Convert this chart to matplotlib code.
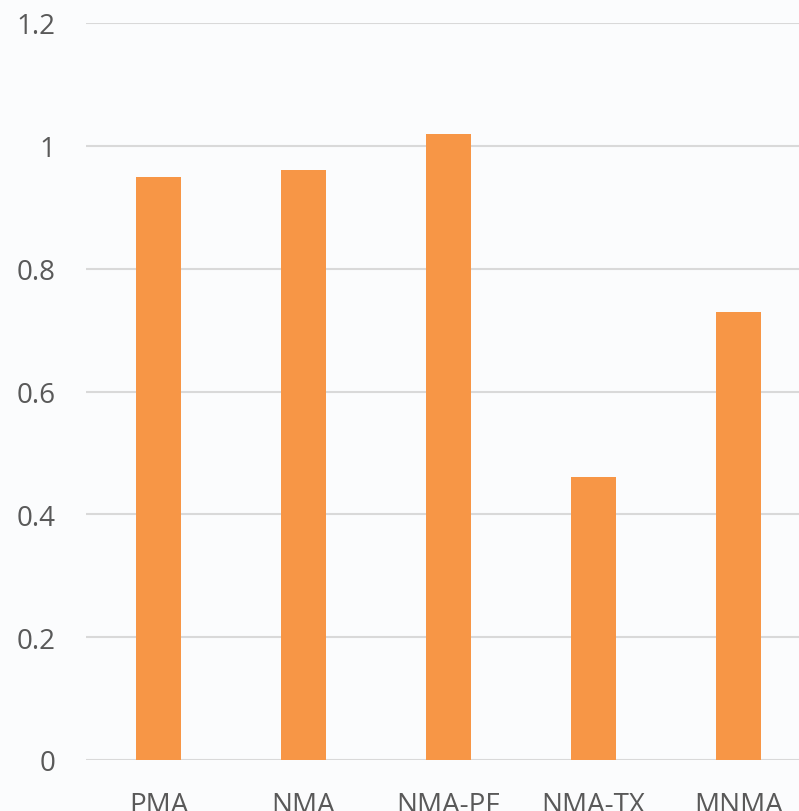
import matplotlib
matplotlib.use("Agg")
import matplotlib.pyplot as plt

# data
categories = ["PMA", "NMA", "NMA-PF", "NMA-TX", "MNMA"]
values = [0.95, 0.96, 1.02, 0.46, 0.73]
yticks = [0, 0.2, 0.4, 0.6, 0.8, 1.0, 1.2]
ytick_labels = ["0", "0.2", "0.4", "0.6", "0.8", "1", "1.2"]

plt.rcParams["font.family"] = ["Open Sans", "DejaVu Sans"]

W, H = 799, 812
fig = plt.figure(figsize=(W / 100, H / 100), dpi=100)
fig.patch.set_facecolor("#FBFCFD")

# axes placed in pixels: left edge 86, zero line 761, top line 24; right edge runs off the figure
left, right, y0, y1 = 86, 799, 761, 24
ax = fig.add_axes([left / W, (H - y0) / H, (right - left) / W, (y0 - y1) / H])
ax.set_facecolor("#FBFCFD")

x = range(len(categories))
ax.bar(x, values, width=0.315, color="#F79646", zorder=3)

ax.set_ylim(0, 1.2)
ax.set_xlim(-0.5, -0.5 + (right - left) / 145)
ax.set_yticks(yticks)
ax.set_yticklabels(ytick_labels)
ax.set_xticks(list(x))
ax.set_xticklabels(categories)

ax.grid(axis="y", color="#D9D9D9", linewidth=1.5, zorder=0)
for s in ax.spines.values():
    s.set_visible(False)
ax.tick_params(axis="y", length=0, pad=22, labelsize=20, labelcolor="#595959")
ax.tick_params(axis="x", length=0, pad=22, labelsize=20, labelcolor="#595959")
for lab in ax.get_xticklabels():
    lab.set_verticalalignment("top")

fig.savefig("out.png", dpi=100, facecolor=fig.get_facecolor())
